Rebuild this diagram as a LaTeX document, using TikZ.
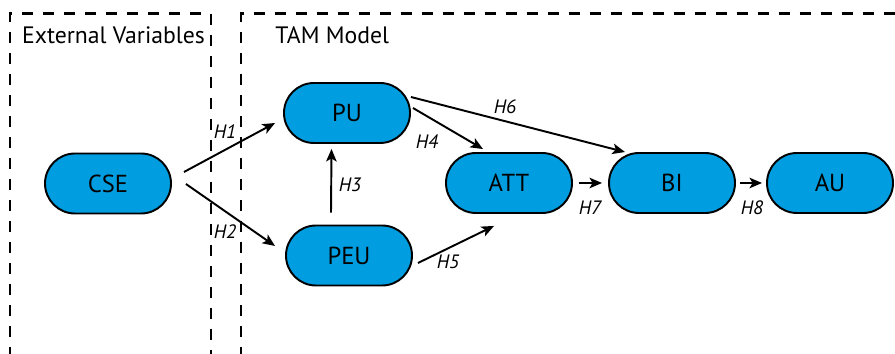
\documentclass[tikz,border=0pt]{standalone}
\usepackage{fontspec}
\setmainfont{PT Sans}
\usetikzlibrary{arrows.meta}
\definecolor{nodeblue}{RGB}{0,158,224}

\begin{document}
\begin{tikzpicture}[
        construct/.style={draw=black, line width=1.1pt, fill=nodeblue, rounded corners=0.6cm,
            minimum width=2.52cm, minimum height=1.2cm, inner sep=0pt,
            font=\fontsize{14}{16}\selectfont},
        hyp/.style={inner sep=0pt, font=\fontsize{11}{13}\selectfont\itshape},
        link/.style={line width=1.1pt, -{Stealth[length=2.5mm, width=2.1mm, inset=0.6mm]}},
        boxline/.style={line width=1.3pt, dash pattern=on 0.22cm off 0.2cm},
    ]
        \clip (0,0) rectangle (17.9,7.08);

        % dashed frames
        \draw[boxline] (0.2,-0.5) -- (0.2,6.81) -- (4.22,6.81) -- (4.22,-0.5);
        \draw[boxline] (4.82,-0.5) -- (4.82,6.81) -- (18.5,6.81);

        \node[anchor=base, inner sep=0pt, font=\fontsize{13.5}{16}\selectfont] (ext) at (2.27,6.2) {External Variables};
        \node[anchor=base west, inner sep=0pt, font=\fontsize{13.5}{16}\selectfont] (tam) at (5.5,6.2) {TAM Model};

        % constructs
        \node[construct] (cse) at (2.16,3.41) {CSE};
        \node[construct] (pu)  at (6.94,4.82) {PU};
        \node[construct] (peu) at (6.98,1.97) {PEU};
        \node[construct] (att) at (10.18,3.42) {ATT};
        \node[construct] (bi)  at (13.44,3.42) {BI};
        \node[construct] (au)  at (16.6,3.42) {AU};

        % hypotheses
        \draw[link] ([shift={(0.24,0.23)}]cse.east) -- ([shift={(-0.16,-0.2)}]pu.west);
        \draw[link] ([shift={(0.28,-0.01)}]cse.east) -- ([shift={(-0.2,0.19)}]peu.west);
        \draw[link] ([shift={(-0.36,0.24)}]peu.north) -- ([shift={(-0.31,-0.1)}]pu.south);
        \draw[link] ([shift={(0.04,0.1)}]pu.east) -- ([shift={(-0.52,0.06)}]att.north);
        \draw[link] ([shift={(0.1,-0.15)}]peu.east) -- ([shift={(-0.3,-0.24)}]att.south);
        \draw[link] ([shift={(0,0.32)}]pu.east) -- ([shift={(-0.94,0)}]bi.north);
        \draw[link] ([shift={(0.12,0)}]att.east) -- ([shift={(-0.12,0)}]bi.west);
        \draw[link] ([shift={(0.08,0)}]bi.east) -- ([shift={(-0.08,0)}]au.west);

        \node[hyp] (h1) at (4.5,4.44) {H1};
        \node[hyp] (h2) at (4.5,2.44) {H2};
        \node[hyp] (h3) at (7.0,3.38) {H3};
        \node[hyp] (h4) at (8.54,4.24) {H4};
        \node[hyp] (h5) at (8.96,1.84) {H5};
        \node[hyp] (h6) at (10.1,4.94) {H6};
        \node[hyp] (h7) at (11.8,2.92) {H7};
        \node[hyp] (h8) at (15.04,2.92) {H8};
    \end{tikzpicture}
\end{document}
